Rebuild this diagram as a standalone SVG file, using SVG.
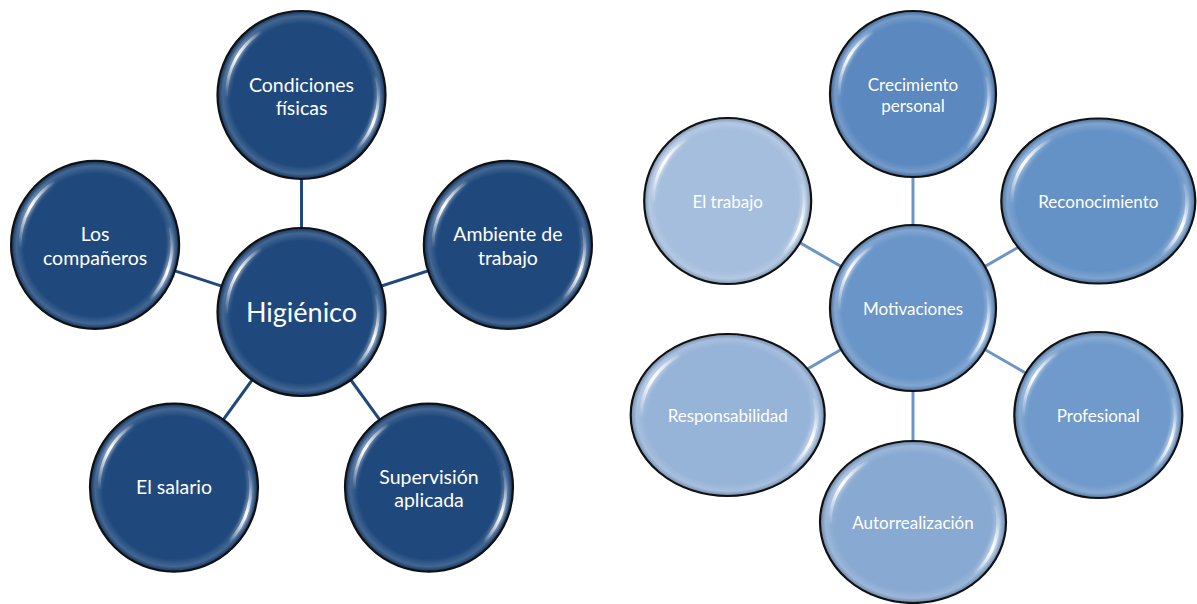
<svg xmlns="http://www.w3.org/2000/svg" xmlns:xlink="http://www.w3.org/1999/xlink" width="1197" height="604" viewBox="0 0 1197 604">
<style>
  .node { stroke: #111; stroke-width: 2.2; }
  .rim { fill: url(#rimGrad); stroke: none; }
  .lbl { font-family: Lato, "Liberation Sans", sans-serif; fill: #fff; text-anchor: middle; }
  .lbl-l { font-size: 19.5px; }
  .lbl-c { font-size: 27px; }
  .lbl-r { font-size: 17px; }
  .conn-l { stroke: #1F497D; stroke-width: 3; }
  .conn-r { stroke: #6C94C7; stroke-width: 3; }
</style>
<defs>
  <radialGradient id="rimGrad" cx="0.5" cy="0.5" r="0.5">
    <stop offset="0.86" stop-color="#fff" stop-opacity="0"/>
    <stop offset="0.95" stop-color="#fff" stop-opacity="0.16"/>
    <stop offset="1" stop-color="#000" stop-opacity="0.18"/>
  </radialGradient>
  <linearGradient id="g1" x1="0" y1="1" x2="1" y2="0">
    <stop offset="0" stop-color="#fff" stop-opacity="0.05"/>
    <stop offset="0.45" stop-color="#fff" stop-opacity="1"/>
    <stop offset="1" stop-color="#fff" stop-opacity="0"/>
  </linearGradient>
  <linearGradient id="g2" x1="1" y1="0" x2="0" y2="1">
    <stop offset="0" stop-color="#fff" stop-opacity="0"/>
    <stop offset="0.4" stop-color="#fff" stop-opacity="1"/>
    <stop offset="1" stop-color="#fff" stop-opacity="0"/>
  </linearGradient>
  <filter id="soft" x="-30%" y="-30%" width="160%" height="160%">
    <feGaussianBlur stdDeviation="1.8"/>
  </filter>
  <filter id="sharp" x="-30%" y="-30%" width="160%" height="160%">
    <feGaussianBlur stdDeviation="0.6"/>
  </filter>
  <g id="gloss" fill="none" stroke-linecap="round">
    <path d="M -75 0 A 75 75 0 0 1 -39.7 -63.6" stroke="url(#g1)" stroke-width="7" opacity="0.45" filter="url(#soft)"/>
    <path d="M 75.3 -16 A 77 77 0 0 1 54.4 54.4" stroke="url(#g2)" stroke-width="7" opacity="0.45" filter="url(#soft)"/>
    <path d="M -75 0 A 75 75 0 0 1 -39.7 -63.6" stroke="url(#g1)" stroke-width="3" filter="url(#sharp)"/>
    <path d="M 75.3 -16 A 77 77 0 0 1 54.4 54.4" stroke="url(#g2)" stroke-width="3" filter="url(#sharp)"/>
  </g>
</defs>
<rect width="1197" height="604" fill="#fff"/>

<g id="connectors">
  <line class="conn-l" x1="301.5" y1="312" x2="301.5" y2="95"/>
  <line class="conn-l" x1="301.5" y1="312" x2="507.9" y2="244.9"/>
  <line class="conn-l" x1="301.5" y1="312" x2="429" y2="487.6"/>
  <line class="conn-l" x1="301.5" y1="312" x2="174" y2="487.6"/>
  <line class="conn-l" x1="301.5" y1="312" x2="95.1" y2="244.9"/>
  <line class="conn-r" x1="913" y1="308" x2="913" y2="94"/>
  <line class="conn-r" x1="913" y1="308" x2="1098.3" y2="201"/>
  <line class="conn-r" x1="913" y1="308" x2="1098.3" y2="415"/>
  <line class="conn-r" x1="913" y1="308" x2="913" y2="522"/>
  <line class="conn-r" x1="913" y1="308" x2="727.7" y2="415"/>
  <line class="conn-r" x1="913" y1="308" x2="727.7" y2="201"/>
</g>

<g id="n-higienico">
  <circle class="node" cx="301.5" cy="312" r="84" fill="#1F497D"/>
  <circle class="rim" cx="301.5" cy="312" r="83"/>
  <use href="#gloss" transform="translate(301.5 312)"/>
  <text class="lbl lbl-c" x="301.5" y="322">Higiénico</text>
</g>
<g id="n-condiciones">
  <circle class="node" cx="301.5" cy="95" r="84" fill="#1F497D"/>
  <circle class="rim" cx="301.5" cy="95" r="83"/>
  <use href="#gloss" transform="translate(301.5 95)"/>
  <text class="lbl lbl-l" x="301.5" y="91.5">Condiciones</text>
  <text class="lbl lbl-l" x="301.5" y="115">físicas</text>
</g>
<g id="n-ambiente">
  <circle class="node" cx="507.9" cy="244.9" r="84" fill="#1F497D"/>
  <circle class="rim" cx="507.9" cy="244.9" r="83"/>
  <use href="#gloss" transform="translate(507.9 244.9)"/>
  <text class="lbl lbl-l" x="507.9" y="241">Ambiente de</text>
  <text class="lbl lbl-l" x="507.9" y="264.5">trabajo</text>
</g>
<g id="n-supervision">
  <circle class="node" cx="429" cy="487.6" r="84" fill="#1F497D"/>
  <circle class="rim" cx="429" cy="487.6" r="83"/>
  <use href="#gloss" transform="translate(429 487.6)"/>
  <text class="lbl lbl-l" x="429" y="483.5">Supervisión</text>
  <text class="lbl lbl-l" x="429" y="507">aplicada</text>
</g>
<g id="n-salario">
  <circle class="node" cx="174" cy="487.6" r="84" fill="#1F497D"/>
  <circle class="rim" cx="174" cy="487.6" r="83"/>
  <use href="#gloss" transform="translate(174 487.6)"/>
  <text class="lbl lbl-l" x="174" y="494">El salario</text>
</g>
<g id="n-companeros">
  <circle class="node" cx="95.1" cy="244.9" r="84" fill="#1F497D"/>
  <circle class="rim" cx="95.1" cy="244.9" r="83"/>
  <use href="#gloss" transform="translate(95.1 244.9)"/>
  <text class="lbl lbl-l" x="95.1" y="241">Los</text>
  <text class="lbl lbl-l" x="95.1" y="264.5">compañeros</text>
</g>

<g id="n-motivaciones">
  <ellipse class="node" cx="913" cy="308" rx="83" ry="83" fill="#6A95C9"/>
  <ellipse class="rim" cx="913" cy="308" rx="82" ry="82"/>
  <use href="#gloss" transform="translate(913 308) scale(0.988)"/>
  <text class="lbl lbl-r" x="913" y="314.5">Motivaciones</text>
</g>
<g id="n-crecimiento">
  <ellipse class="node" cx="913" cy="94" rx="83" ry="83" fill="#5A88BF"/>
  <ellipse class="rim" cx="913" cy="94" rx="82" ry="82"/>
  <use href="#gloss" transform="translate(913 94) scale(0.988)"/>
  <text class="lbl lbl-r" x="913" y="91">Crecimiento</text>
  <text class="lbl lbl-r" x="913" y="112">personal</text>
</g>
<g id="n-reconocimiento">
  <ellipse class="node" cx="1098.3" cy="201" rx="97" ry="82.5" fill="#6592C6"/>
  <ellipse class="rim" cx="1098.3" cy="201" rx="96" ry="81.5"/>
  <use href="#gloss" transform="translate(1098.3 201) scale(1.155 0.982)"/>
  <text class="lbl lbl-r" x="1098.3" y="207.5">Reconocimiento</text>
</g>
<g id="n-profesional">
  <ellipse class="node" cx="1098.3" cy="415" rx="84" ry="83" fill="#709ACB"/>
  <ellipse class="rim" cx="1098.3" cy="415" rx="83" ry="82"/>
  <use href="#gloss" transform="translate(1098.3 415) scale(1 0.988)"/>
  <text class="lbl lbl-r" x="1098.3" y="421.5">Profesional</text>
</g>
<g id="n-autorrealizacion">
  <ellipse class="node" cx="913" cy="522" rx="93" ry="81" fill="#88A9D2"/>
  <ellipse class="rim" cx="913" cy="522" rx="92" ry="80"/>
  <use href="#gloss" transform="translate(913 522) scale(1.107 0.964)"/>
  <text class="lbl lbl-r" x="913" y="528.5">Autorrealización</text>
</g>
<g id="n-responsabilidad">
  <ellipse class="node" cx="727.7" cy="415" rx="97" ry="81" fill="#96B3D8"/>
  <ellipse class="rim" cx="727.7" cy="415" rx="96" ry="80"/>
  <use href="#gloss" transform="translate(727.7 415) scale(1.155 0.964)"/>
  <text class="lbl lbl-r" x="727.7" y="421.5">Responsabilidad</text>
</g>
<g id="n-trabajo">
  <ellipse class="node" cx="727.7" cy="201" rx="83.5" ry="83" fill="#A5BEDD"/>
  <ellipse class="rim" cx="727.7" cy="201" rx="82.5" ry="82"/>
  <use href="#gloss" transform="translate(727.7 201) scale(0.994 0.988)"/>
  <text class="lbl lbl-r" x="727.7" y="207.5">El trabajo</text>
</g>
</svg>
